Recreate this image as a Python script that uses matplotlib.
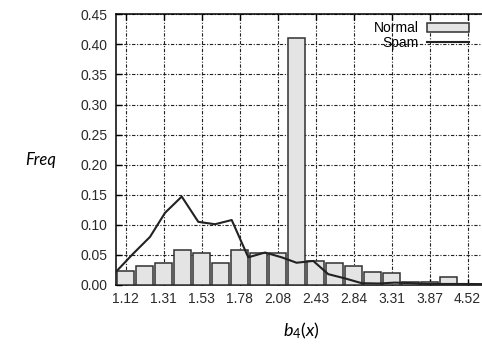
import numpy as np
import matplotlib.pyplot as plt

# values
tick_labels = ['1.12', '1.31', '1.53', '1.78', '2.08', '2.43', '2.84', '3.31', '3.87', '4.52']
normal = [0.024, 0.032, 0.037, 0.059, 0.054, 0.037, 0.059, 0.053, 0.054, 0.410,
          0.040, 0.037, 0.032, 0.022, 0.020, 0.0055, 0.0045, 0.014, 0.002]
# spam curve sits on its own x grid (in bar index units)
spam_x = [-0.5, 0.37, 1.29, 2.08, 2.96, 3.83, 4.71, 5.59, 6.46, 7.34, 8.22, 9.0,
          9.88, 10.67, 11.55, 12.43, 13.32, 14.18, 15.05, 15.91, 16.77, 17.64, 18.76]
spam = [0.022, 0.051, 0.080, 0.120, 0.147, 0.105, 0.101, 0.108, 0.046, 0.054, 0.046, 0.037,
        0.040, 0.018, 0.011, 0.003, 0.0025, 0.004, 0.003, 0.0017, 0.0017, 0.0017, 0.0015]

plt.rcParams['font.family'] = ['Liberation Sans', 'DejaVu Sans']
plt.rcParams['mathtext.fontset'] = 'custom'
plt.rcParams['mathtext.it'] = 'Lato:italic'
plt.rcParams['mathtext.rm'] = 'Lato'

fig = plt.figure(figsize=(4.82, 3.47), dpi=100)
ax = fig.add_axes([116/482, 1-285/347, 366/482, (285-14.3)/347])

idx = np.arange(len(normal))
bars = ax.bar(idx, normal, width=0.88, color='#e4e4e4', edgecolor='#303030', linewidth=1.1,
              label='Normal', zorder=3)
line, = ax.plot(spam_x, spam, color='#222222', linewidth=1.5, label='Spam', zorder=4)

ax.set_xlim(-0.5, 18.76)
ax.set_ylim(0, 0.45)
ax.set_yticks(np.arange(0, 0.451, 0.05))
ax.set_yticklabels(['%.2f' % v for v in np.arange(0, 0.451, 0.05)])
ax.set_xticks(idx[::2])
ax.set_xticklabels(tick_labels)

ax.grid(True, color='#222222', linewidth=0.8, linestyle=(0, (3, 1.5, 1, 1.5)), zorder=1)
ax.tick_params(direction='in', top=True, length=4, width=1, labelsize=10,
               labelcolor='#2a2a2a')
ax.tick_params(axis='y', pad=6)
ax.tick_params(axis='x', pad=5)
ax.spines['right'].set_visible(False)
for s in ['left', 'top', 'bottom']:
    ax.spines[s].set_linewidth(1.1)

ax.legend([bars, line], ['Normal', 'Spam'], loc='upper right',
          bbox_to_anchor=(469/482, 1-21/347), bbox_transform=fig.transFigure,
          frameon=False, markerfirst=False, fontsize=10, handlelength=3.0,
          handleheight=0.6, handletextpad=0.6, labelspacing=0.05,
          borderpad=0, borderaxespad=0)

fig.text(301/482, 1-331/347, r'$\mathit{b_4(x)}$', ha='center', va='center', fontsize=13)
fig.text(41/482, 1-160/347, 'Freq', ha='center', va='center', fontsize=12,
         family='Lato', style='italic')

plt.savefig('out.png', dpi=100)
